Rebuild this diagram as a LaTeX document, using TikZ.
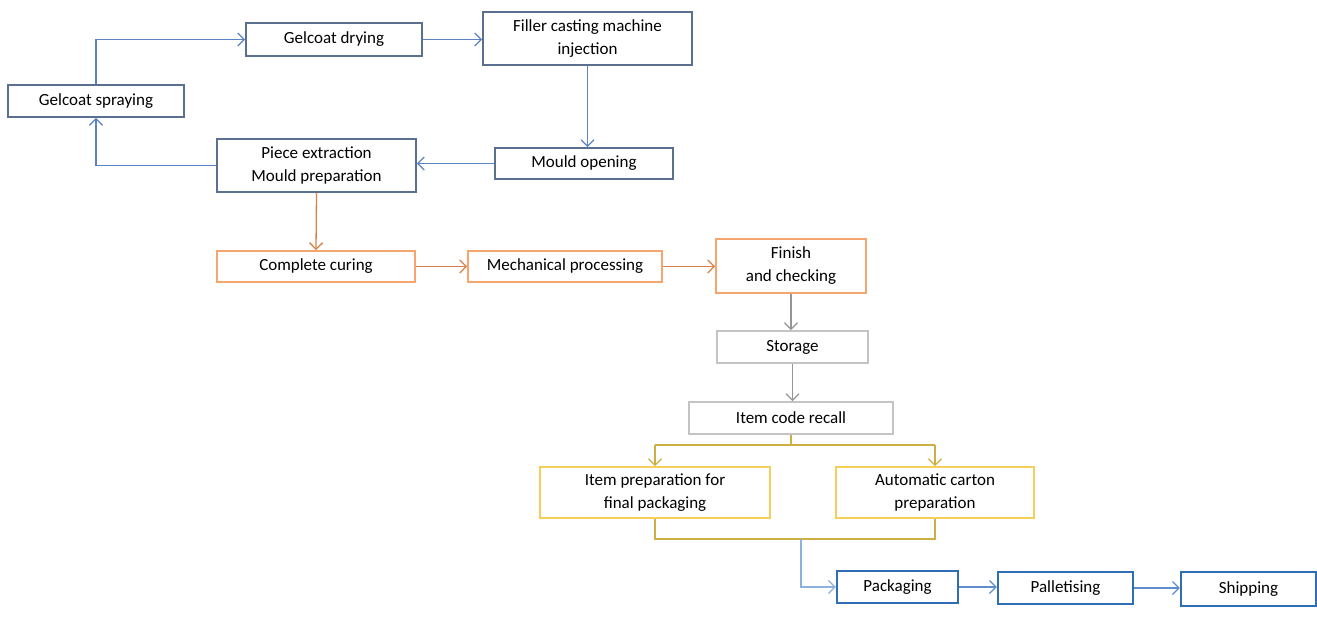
\documentclass[tikz,border=0pt]{standalone}
\usepackage{fontspec}
\setmainfont{Carlito}
\usetikzlibrary{arrows.meta}
\definecolor{topbox}{HTML}{5B6F8F}
\definecolor{toparrow}{HTML}{5A82C4}
\definecolor{orangebox}{HTML}{F4A66E}
\definecolor{orangearrow}{HTML}{D6824A}
\definecolor{graybox}{HTML}{C4C4C4}
\definecolor{grayarrow}{HTML}{959595}
\definecolor{yellowbox}{HTML}{F5CF5A}
\definecolor{yellowarrow}{HTML}{CFAE45}
\definecolor{bluebox}{HTML}{2F6DB5}
\definecolor{bluearrow}{HTML}{5F8CCB}
\definecolor{lightbluearrow}{HTML}{8DB2DE}
\begin{document}
\begin{tikzpicture}[x=1pt,y=-1pt,
  box/.style={draw, line width=1.7pt, inner sep=0pt, align=center, text=black,
    font=\fontsize{17}{23}\selectfont},
  topb/.style={box, draw=topbox},
  orb/.style={box, draw=orangebox},
  grb/.style={box, draw=graybox},
  yeb/.style={box, draw=yellowbox},
  blb/.style={box, draw=bluebox, line width=2.2pt},
  conn/.style={line width=1.3pt, -{Straight Barb[length=6.5pt,width=13pt,line width=1.3pt]}},
  plain/.style={line width=1.3pt}
]
\useasboundingbox (0,0) rectangle (1317,621);
% top loop
\node[topb, minimum width=176pt, minimum height=32pt] (spray) at (96,101) {Gelcoat spraying};
\node[topb, minimum width=176pt, minimum height=33pt] (dry) at (334,39.5) {Gelcoat drying};
\node[topb, minimum width=209pt, minimum height=53pt] (filler) at (587.5,38.5) {Filler casting machine\\injection};
\node[topb, minimum width=178pt, minimum height=31pt] (mould) at (584,163.5) {Mould opening};
\node[topb, minimum width=199pt, minimum height=53pt] (piece) at (316.5,165.5) {Piece extraction\\Mould preparation};
% orange row
\node[orb, minimum width=198pt, minimum height=31pt] (curing) at (316,266.5) {Complete curing};
\node[orb, minimum width=194pt, minimum height=31pt] (mech) at (565,266.5) {Mechanical processing};
\node[orb, minimum width=150pt, minimum height=54pt] (finish) at (791,266) {Finish\\and checking};
% gray
\node[grb, minimum width=151pt, minimum height=32pt] (storage) at (792.5,347) {Storage};
\node[grb, minimum width=204pt, minimum height=32pt] (itemcode) at (791,418) {Item code recall};
% yellow
\node[yeb, minimum width=230pt, minimum height=51pt] (itemprep) at (655,492.5) {Item preparation for\\final packaging};
\node[yeb, minimum width=198pt, minimum height=51pt] (carton) at (935,492.5) {Automatic carton\\preparation};
% blue bottom
\node[blb, minimum width=121pt, minimum height=32pt] (pack) at (897.5,587) {Packaging};
\node[blb, minimum width=135pt, minimum height=32pt] (pallet) at (1065.5,588) {Palletising};
\node[blb, minimum width=135pt, minimum height=34pt] (ship) at (1248.5,589) {Shipping};

% connectors top
\draw[conn, toparrow] (spray.north) |- (dry.west);
\draw[conn, toparrow] (dry.east) -- (dry.east -| filler.west);
\draw[conn, toparrow] (filler.south) -- (filler.south |- mould.north);
\draw[conn, toparrow] (mould.west) -- (mould.west -| piece.east);
\draw[conn, toparrow] (piece.west) -| (spray.south);
% orange
\draw[conn, orangearrow] (piece.south) -- (curing.north);
\draw[conn, orangearrow] (curing.east) -- (mech.west);
\draw[conn, orangearrow] (mech.east) -- (mech.east -| finish.west);
% gray
\draw[conn, grayarrow] (finish.south) -- (finish.south |- storage.north);
\draw[conn, grayarrow] (storage.south) -- (storage.south |- itemcode.north);
% split
\coordinate (split) at (791,445);
\draw[plain, yellowarrow] (itemcode.south) -- (split);
\draw[plain, yellowarrow] (split -| itemprep.north) -- (split -| carton.north);
\draw[conn, yellowarrow] (split -| itemprep.north) -- (itemprep.north);
\draw[conn, yellowarrow] (split -| carton.north) -- (carton.north);
% join
\coordinate (join) at (801,539);
\draw[plain, yellowarrow] (itemprep.south) |- (join) -| (carton.south);
\draw[conn, lightbluearrow] (join) |- (pack.west);
\draw[conn, bluearrow] (pack.east) -- (pack.east -| pallet.west);
\draw[conn, bluearrow] (pallet.east) -- (pallet.east -| ship.west);
\end{tikzpicture}
\end{document}
